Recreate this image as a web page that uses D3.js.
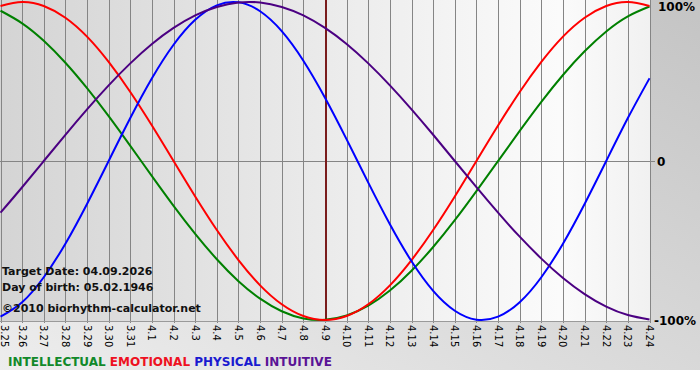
<!DOCTYPE html>
<html>
<head>
<meta charset="utf-8">
<script src="https://cdn.jsdelivr.net/npm/d3@7"></script>
<style>
  html, body { margin: 0; padding: 0; background: #ffffff; }
  svg { display: block; }
  text { font-family: Verdana, "DejaVu Sans", sans-serif; }
</style>
</head>
<body>
<svg id="chart" width="700" height="380"></svg>
<script>
// ---- data ----
const days = ["3.25","3.26","3.27","3.28","3.29","3.30","3.31","4.1","4.2","4.3","4.4","4.5","4.6","4.7","4.8","4.9","4.10","4.11","4.12","4.13","4.14","4.15","4.16","4.17","4.18","4.19","4.20","4.21","4.22","4.23","4.24"];
const intellectual = [94.5,86.6,75.6,61.8,45.8,28.2,9.5,-9.5,-28.2,-45.8,-61.8,-75.6,-86.6,-94.5,-99.0,-99.9,-97.2,-91.0,-81.5,-69.0,-54.1,-37.2,-18.9,0,18.9,37.2,54.1,69.0,81.5,91.0,97.2];
const emotional = [97.5,100,97.5,90.1,78.2,62.3,43.4,22.3,0,-22.3,-43.4,-62.3,-78.2,-90.1,-97.5,-100,-97.5,-90.1,-78.2,-62.3,-43.4,-22.3,0,22.3,43.4,62.3,78.2,90.1,97.5,100,97.5];
const physical = [-97.9,-88.8,-73.1,-52.0,-27.0,0,27.0,52.0,73.1,88.8,97.9,99.8,94.2,81.7,63.1,39.8,13.6,-13.6,-39.8,-63.1,-81.7,-94.2,-99.8,-97.9,-88.8,-73.1,-52.0,-27.0,0,27.0,52.0];
const intuitive = [-32.5,-16.5,0,16.5,32.5,47.6,61.4,73.6,83.7,91.6,96.9,99.7,99.7,96.9,91.6,83.7,73.6,61.4,47.6,32.5,16.5,0,-16.5,-32.5,-47.6,-61.4,-73.6,-83.7,-91.6,-96.9,-99.7];
const yTicks = [100, 0, -100];
const yTickLabels = ["100%", "0", "-100%"];
const targetDay = "4.9";
const infoLines = ["Target Date: 04.09.2026", "Day of birth: 05.02.1946"];
const copyright = "\u00A92010 biorhythm-calculator.net";
const seriesNames = ["INTELLECTUAL", "EMOTIONAL", "PHYSICAL", "INTUITIVE"];

// ---- drawing ----
const svg = d3.select("#chart");
const W = 700, H = 370;
const plotL = 0, plotR = 650, plotT = 0, plotB = 321;

const defs = svg.append("defs");
const bg = defs.append("linearGradient").attr("id", "bgGrad")
  .attr("x1", "0").attr("y1", "1").attr("x2", "1").attr("y2", "0");
bg.append("stop").attr("offset", "0").attr("stop-color", "#ededed");
bg.append("stop").attr("offset", "1").attr("stop-color", "#c4c4c4");

const pg = defs.append("linearGradient").attr("id", "plotGrad")
  .attr("x1", "0").attr("y1", "0").attr("x2", "1").attr("y2", "0");
pg.append("stop").attr("offset", "0").attr("stop-color", "#d4d4d4");
pg.append("stop").attr("offset", "0.86").attr("stop-color", "#fbfbfb");
pg.append("stop").attr("offset", "1").attr("stop-color", "#f1f1f1");

svg.append("rect").attr("x", 0).attr("y", 0).attr("width", W).attr("height", H)
  .attr("fill", "url(#bgGrad)");
svg.append("rect").attr("x", plotL).attr("y", plotT).attr("width", plotR - plotL).attr("height", plotB - plotT)
  .attr("fill", "url(#plotGrad)");

const x = d3.scalePoint().domain(days).range([plotL + 0.5, plotR - 0.5]);
const y = d3.scaleLinear().domain([-100, 100]).range([320, 2]);

// vertical grid lines
svg.append("g").selectAll("line").data(days).join("line")
  .attr("x1", d => Math.round(x(d)) + 0.5).attr("x2", d => Math.round(x(d)) + 0.5)
  .attr("y1", plotT).attr("y2", plotB + 2)
  .attr("stroke", "#858585").attr("stroke-width", 1);

// horizontal lines at 0 and bottom
svg.append("line").attr("x1", plotL).attr("x2", plotR + 5)
  .attr("y1", Math.round(y(0)) + 0.5).attr("y2", Math.round(y(0)) + 0.5)
  .attr("stroke", "#858585");
svg.append("line").attr("x1", plotL).attr("x2", plotR)
  .attr("y1", plotB + 0.5).attr("y2", plotB + 0.5)
  .attr("stroke", "#9a9a9a");

// target date line
svg.append("line")
  .attr("x1", x(targetDay) + 1).attr("x2", x(targetDay) + 1)
  .attr("y1", plotT).attr("y2", plotB)
  .attr("stroke", "#7a1c1c").attr("stroke-width", 2);

// curves
const series = [
  { name: seriesNames[0], values: intellectual, color: "#008000", legend: "#12892a" },
  { name: seriesNames[1], values: emotional, color: "#ff0000", legend: "#ee1122" },
  { name: seriesNames[2], values: physical, color: "#0000ff", legend: "#1a1ad0" },
  { name: seriesNames[3], values: intuitive, color: "#4b0082", legend: "#5a1496" }
];
const line = d3.line()
  .x((d, i) => x(days[i]))
  .y(d => y(d))
  .curve(d3.curveNatural);

svg.append("defs").append("clipPath").attr("id", "clipPlot")
  .append("rect").attr("x", plotL).attr("y", plotT).attr("width", plotR - plotL + 1).attr("height", plotB - plotT + 1);

const curves = svg.append("g").attr("clip-path", "url(#clipPlot)");
curves.selectAll("path").data(series).join("path")
  .attr("d", d => line(d.values))
  .attr("fill", "none")
  .attr("stroke", d => d.color)
  .attr("stroke-width", 2);

// x tick labels (rotated)
svg.append("g").selectAll("text").data(days).join("text")
  .attr("transform", d => `translate(${Math.max(x(d), 4)},${plotB + 4}) rotate(90)`)
  .attr("dy", "0.35em")
  .attr("text-anchor", "start")
  .attr("font-size", "10px")
  .attr("fill", "#000")
  .text(d => d);

// y tick labels on right
svg.append("g").selectAll("text").data(yTicks).join("text")
  .attr("x", d => d === 0 ? 657 : (d > 0 ? 658 : 654))
  .attr("y", d => Math.min(Math.max(y(d), 6), 320))
  .attr("dy", "0.38em")
  .attr("font-size", "12px")
  .attr("font-weight", "bold")
  .attr("fill", "#000")
  .text((d, i) => yTickLabels[i]);

// info text
svg.append("g").selectAll("text").data(infoLines).join("text")
  .attr("x", 2).attr("y", (d, i) => 275 + i * 16)
  .attr("font-size", "11px").attr("font-weight", "bold").attr("fill", "#111")
  .text(d => d);
svg.append("text").attr("x", 2).attr("y", 312)
  .attr("font-size", "11px").attr("font-weight", "bold").attr("fill", "#111")
  .text(copyright);

// legend
const legend = svg.append("text").attr("x", 8).attr("y", 366)
  .attr("font-size", "12px").attr("font-weight", "bold");
series.forEach((s, i) => {
  legend.append("tspan").attr("fill", s.legend).text((i ? "\u00A0" : "") + s.name);
});
</script>
</body>
</html>
